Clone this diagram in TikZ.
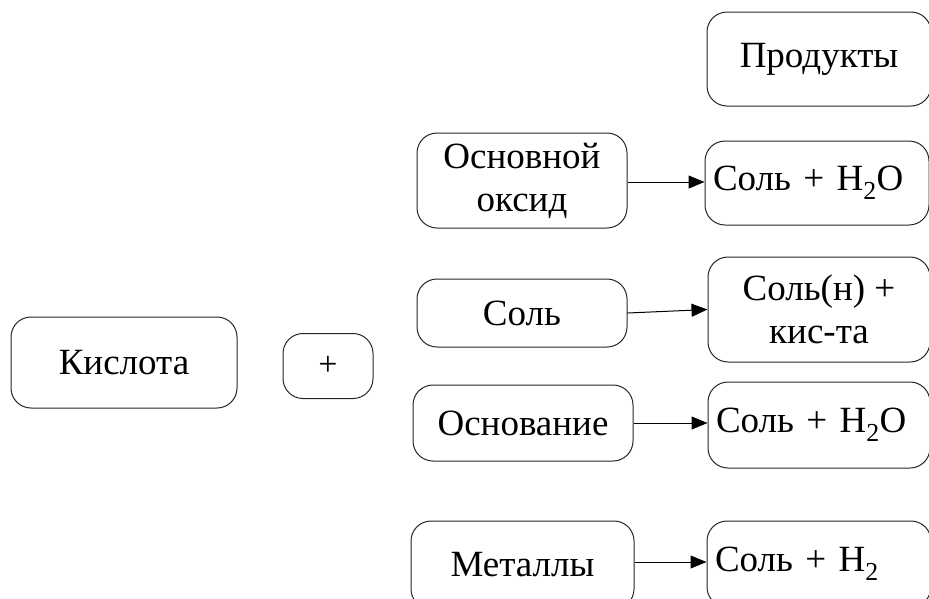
\documentclass[tikz,border=0pt]{standalone}
\usepackage{fontspec}
\setmainfont{Liberation Serif}
\usetikzlibrary{arrows.meta}
\begin{document}
\begin{tikzpicture}[x=1pt,y=-1pt,
  box/.style={draw=black!85, line width=1pt, rounded corners=20pt, inner sep=0pt, align=center,
    font=\fontsize{37}{43}\selectfont},
  lbox/.style={box, align=left, inner xsep=8pt},
  arr/.style={-{Triangle[length=16pt,width=13pt]}, line width=1pt}
]
\useasboundingbox (0,0) rectangle (929,598);
% left
\node[box, minimum width=226pt, minimum height=91pt] (acid) at (124,362.5) {Кислота};
\node[box, minimum width=90pt, minimum height=65pt, font=\fontsize{34}{40}\selectfont] (plus) at (328,366) {+};
% header
\node[box, minimum width=224pt, minimum height=94pt] (prod) at (819,59) {Продукты};
% reactants
\node[box, minimum width=210pt, minimum height=95pt] (oxide) at (522,180.5) {Основной\\оксид};
\node[box, minimum width=210pt, minimum height=68pt] (salt) at (522,313) {Соль};
\node[box, minimum width=220pt, minimum height=76pt] (base) at (523,423) {Основание};
\node[box, minimum width=223pt, minimum height=88pt] (metal) at (522.5,565) {Металлы};
% products
\node[lbox, minimum width=224pt, minimum height=84pt, text width=208pt] (p1) at (817,183) {Соль + H\textsubscript{2}O};
\node[box, minimum width=222pt, minimum height=105pt] (p2) at (819,309.5) {Соль(н) +\\кис-та};
\node[lbox, minimum width=222pt, minimum height=86pt, text width=206pt] (p3) at (819,425) {Соль + H\textsubscript{2}O};
\node[lbox, minimum width=224pt, minimum height=86pt, text width=208pt] (p4) at (819,564) {Соль + H\textsubscript{2}};
% arrows
\draw[arr] (oxide.east |- 0,182) -- (p1.west |- 0,182);
\draw[arr] (salt.east) -- (p2.west);
\draw[arr] (base.east) -- (p3.west |- base.east);
\draw[arr] (metal.east |- 0,562) -- (p4.west |- 0,562);
\end{tikzpicture}
\end{document}
